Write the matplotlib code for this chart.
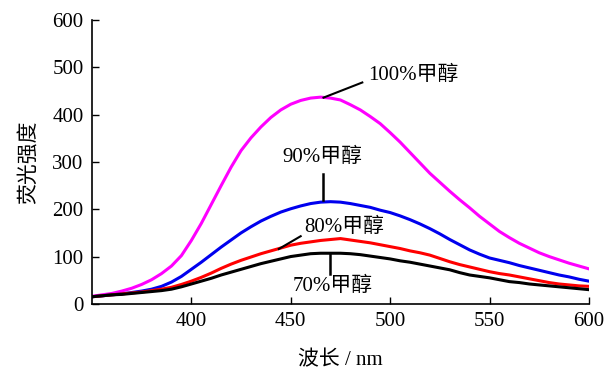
import numpy as np
import matplotlib
matplotlib.use("Agg")
import matplotlib.pyplot as plt

plt.rcParams['font.family'] = ['Liberation Serif', 'Noto Sans CJK SC']

# 波长 (nm)
wavelength = np.arange(350, 601, 5)
# 荧光强度
meoh_100 = [16, 19, 22, 27, 33, 41, 51, 64, 80, 102, 134, 170, 210, 250, 289,
            324, 351, 374, 394, 410, 422, 430, 435, 437, 435, 431, 421, 410, 396,
            381, 362, 342, 320, 298, 276, 257, 238, 220, 203, 185, 169, 153, 140,
            128, 118, 108, 100, 93, 86, 80, 74]
meoh_90 = [15, 17, 19, 21, 24, 27, 31, 37, 46, 58, 73, 88, 104, 120, 135,
           150, 163, 175, 185, 194, 201, 207, 212, 215, 216, 215, 212, 208, 204,
           198, 193, 186, 178, 169, 159, 148, 136, 125, 114, 105, 97, 92, 87,
           81, 76, 71, 66, 61, 57, 52, 48]
meoh_80 = [15, 17, 19, 21, 23, 25, 28, 31, 35, 41, 48, 56, 65, 75, 84,
           92, 99, 106, 112, 118, 124, 128, 131, 134, 136, 138, 135, 132, 129,
           125, 121, 117, 112, 108, 103, 96, 89, 83, 78, 73, 68, 64, 61,
           57, 53, 49, 45, 42, 40, 38, 37]
meoh_70 = [15, 17, 19, 20, 22, 24, 26, 28, 31, 36, 42, 48, 54, 61, 67,
           73, 79, 85, 90, 95, 100, 103, 106, 107, 107, 107, 106, 104, 101,
           98, 95, 91, 88, 84, 80, 76, 72, 66, 61, 58, 55, 51, 47,
           45, 42, 40, 38, 36, 34, 32, 30]

xticks = [400, 450, 500, 550, 600]
yticks = [0, 100, 200, 300, 400, 500, 600]

fig = plt.figure(figsize=(6.09, 3.71), dpi=100)
ax = fig.add_axes([0.151, 0.181, 0.816, 0.765])

ax.plot(wavelength, meoh_100, color='#ff00ff', lw=2.2)
ax.plot(wavelength, meoh_90, color='#0000ee', lw=2.2)
ax.plot(wavelength, meoh_80, color='#ff0000', lw=2.2)
ax.plot(wavelength, meoh_70, color='black', lw=2.2)

ax.set_xlim(350, 600)
ax.set_ylim(0, 600)
ax.set_xticks(xticks)
ax.set_yticks(yticks)
ax.tick_params(direction='in', length=5, width=1, labelsize=15, pad=6)
for s in ['top', 'right']:
    ax.spines[s].set_visible(False)
for s in ['left', 'bottom']:
    ax.spines[s].set_linewidth(1.2)

ax.set_xlabel('波长 / nm', fontsize=15, labelpad=14)
ax.set_ylabel('荧光强度', fontsize=15, labelpad=10)

# 标注
fs = 15
ax.plot([466.5, 486], [436, 468], color='black', lw=1.5)
ax.text(489, 482, '100%甲醇', fontsize=fs, ha='left', va='center')

ax.plot([466, 466], [220, 275], color='black', lw=1.8)
ax.text(466, 310, '90%甲醇', fontsize=fs, ha='center', va='center')

ax.plot([444, 455], [116, 143], color='black', lw=1.5)
ax.text(457, 162, '80%甲醇', fontsize=fs, ha='left', va='center')

ax.plot([470, 470], [64, 107], color='black', lw=1.8)
ax.text(471, 37, '70%甲醇', fontsize=fs, ha='center', va='center')

fig.savefig('out.png', dpi=100)
